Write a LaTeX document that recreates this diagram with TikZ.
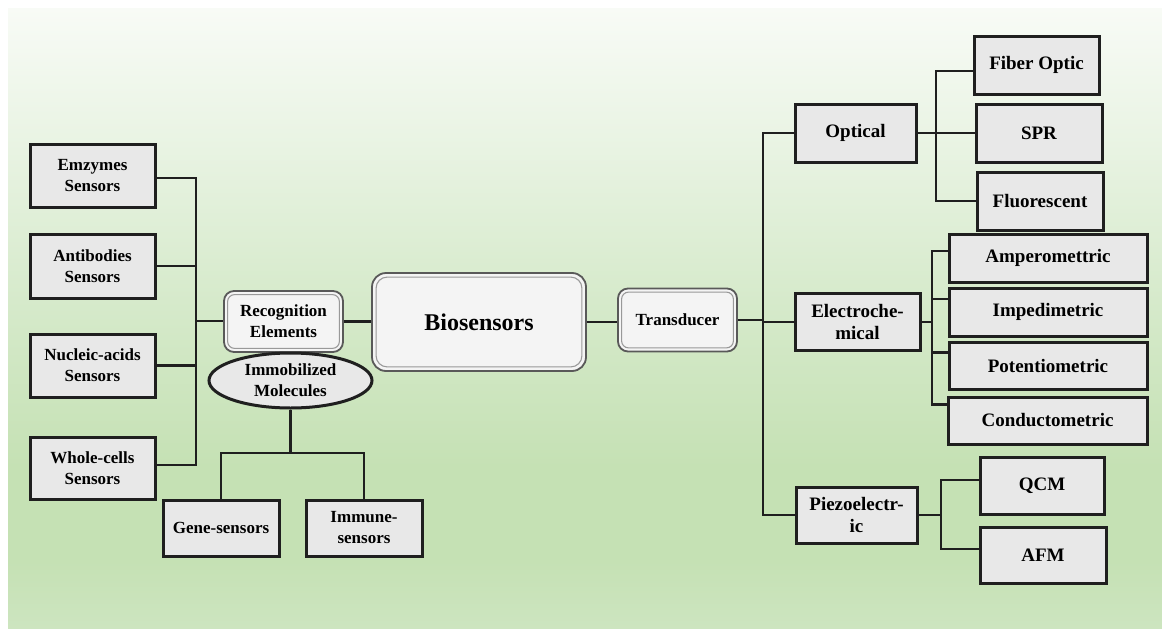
\documentclass[tikz,border=0pt]{standalone}
\usepackage{fontspec}
\setmainfont{Liberation Serif}
\usetikzlibrary{shapes.geometric,calc}
\definecolor{boxfill}{HTML}{E8E8E8}
\definecolor{rfill}{HTML}{F4F4F4}
\definecolor{bgA}{HTML}{CDE5C0}
\definecolor{bgB}{HTML}{C5E1B4}
\definecolor{bgC}{HTML}{D6EACB}
\definecolor{bgD}{HTML}{E8F3E2}
\definecolor{bgE}{HTML}{F8FBF6}
\pgfdeclareverticalshading{bgshade}{100bp}{color(0bp)=(bgA); color(25bp)=(bgA); color(30.5bp)=(bgB); color(38bp)=(bgB); color(51.5bp)=(bgC); color(63.5bp)=(bgD); color(75bp)=(bgE); color(100bp)=(bgE)}
\tikzset{
  sbox/.style={draw=black!88, line width=3pt, fill=boxfill, align=center, inner sep=0pt,
    font=\bfseries\fontsize{19}{22.5}\selectfont},
  lbox/.style={sbox, font=\bfseries\fontsize{17}{21}\selectfont},
  rbox/.style={draw=black!65, line width=1.8pt, fill=rfill, rounded corners=10pt, align=center, inner sep=0pt,
    font=\bfseries\fontsize{17}{21}\selectfont},
  innerline/.style={draw=black!40, line width=1.1pt},
  conn/.style={draw=black!88, line width=2.8pt},
}
\begin{document}
\begin{tikzpicture}[x=1pt,y=-1pt]
\useasboundingbox (0,0) rectangle (1162,629);
\fill[shading=bgshade] (8,8) rectangle (1162,629);

% left sensors
\node[lbox, minimum width=125pt, minimum height=63pt] (emz) at (92.5,175.5) {Emzymes\\Sensors};
\node[lbox, minimum width=125pt, minimum height=64pt] (anti) at (92.5,266) {Antibodies\\Sensors};
\node[lbox, minimum width=125pt, minimum height=63pt] (nuc) at (92.5,365.5) {Nucleic-acids\\Sensors};
\node[lbox, minimum width=125pt, minimum height=62pt] (whole) at (92.5,468) {Whole-cells\\Sensors};

% center
\node[rbox, minimum width=119pt, minimum height=61pt] (rec) at (283.5,321.5) {Recognition\\Elements};
\node[rbox, minimum width=214pt, minimum height=98pt, rounded corners=14pt,
  font=\bfseries\fontsize{24}{28}\selectfont] (bio) at (479,322) {Biosensors};
\node[rbox, minimum width=119pt, minimum height=63pt] (tra) at (677.5,320) {Transducer};
\draw[innerline, rounded corners=7pt] ([xshift=4.5pt,yshift=-4.5pt]rec.north west) rectangle ([xshift=-4.5pt,yshift=4.5pt]rec.south east);
\draw[innerline, rounded corners=11pt] ([xshift=5pt,yshift=-5pt]bio.north west) rectangle ([xshift=-5pt,yshift=5pt]bio.south east);
\draw[innerline, rounded corners=7pt] ([xshift=4.5pt,yshift=-4.5pt]tra.north west) rectangle ([xshift=-4.5pt,yshift=4.5pt]tra.south east);

\node[ellipse, draw=black!88, line width=3pt, fill=boxfill, minimum width=163pt, minimum height=55pt,
  inner sep=0pt, align=center, font=\bfseries\fontsize{17}{21}\selectfont] (imm) at (290.5,380.5) {Immobilized\\Molecules};
\node[lbox, minimum width=116pt, minimum height=56pt] (gene) at (221,528) {Gene-sensors};
\node[lbox, minimum width=116pt, minimum height=56pt] (immu) at (364,528) {Immune-\\sensors};

% right level 1
\node[sbox, minimum width=121pt, minimum height=58pt] (opt) at (855.5,133) {Optical};
\node[sbox, minimum width=125pt, minimum height=57pt] (ele) at (857.5,322) {Electroche-\\mical};
\node[sbox, minimum width=121pt, minimum height=56pt] (pie) at (856.5,515) {Piezoelectr-\\ic};

% optical children
\node[sbox, minimum width=125pt, minimum height=58pt] (fib) at (1036.5,65) {Fiber Optic};
\node[sbox, minimum width=126pt, minimum height=58pt] (spr) at (1039,133) {SPR};
\node[sbox, minimum width=126pt, minimum height=58pt] (flu) at (1040,201) {Fluorescent};

% electrochemical children
\node[sbox, minimum width=198pt, minimum height=48pt] (amp) at (1048,258) {Amperomettric};
\node[sbox, minimum width=198pt, minimum height=48pt] (imp) at (1048,312) {Impedimetric};
\node[sbox, minimum width=198pt, minimum height=47pt] (pot) at (1048,365.5) {Potentiometric};
\node[sbox, minimum width=199pt, minimum height=47pt] (con) at (1047.5,420.5) {Conductometric};

% piezo children
\node[sbox, minimum width=124pt, minimum height=57pt] (qcm) at (1042,485.5) {QCM};
\node[sbox, minimum width=126pt, minimum height=56pt] (afm) at (1043,555) {AFM};

% ---------- connectors ----------
\coordinate (lb) at (196,321);
\coordinate (e1) at ([yshift=-2.5pt]emz.east);
\coordinate (w1) at ([yshift=3pt]whole.east);
\draw[conn] (e1) -- (e1 -| lb) -- (w1 -| lb) -- (w1);
\draw[conn] (anti.east) -- (anti.east -| lb);
\draw[conn] (nuc.east) -- (nuc.east -| lb);
\draw[conn] (lb) -- (rec.west |- lb);
\draw[conn] (rec.east) -- (rec.east -| bio.west);
\draw[conn] (bio.east) -- (bio.east -| tra.west);

\coordinate (ib) at (292,453);
\draw[conn] (imm.south) -- (imm.south |- ib);
\draw[conn] (gene.north) |- (imm.south |- ib) -| (immu.north);

\coordinate (tb) at (763,320);
\draw[conn] (tra.east) -- (tra.east -| tb);
\draw[conn] (opt.west) -- (opt.west -| tb) -- (pie.west -| tb) -- (pie.west);
\draw[conn] (ele.west -| tb) -- (ele.west);

\coordinate (ob) at (936,0);
\coordinate (f1) at ([yshift=-6pt]fib.west);
\draw[conn] (f1) -- (f1 -| ob) -- (flu.west -| ob) -- (flu.west);
\draw[conn] (opt.east) -- (spr.west);

\coordinate (eb) at (932,0);
\coordinate (a1) at ([yshift=7pt]amp.west);
\coordinate (i1) at ([yshift=13pt]imp.west);
\coordinate (p1) at ([yshift=13pt]pot.west);
\coordinate (c1) at ([yshift=16pt]con.west);
\draw[conn] (a1) -- (a1 -| eb) -- (c1 -| eb) -- (c1);
\draw[conn] (i1 -| eb) -- (i1);
\draw[conn] (p1 -| eb) -- (p1);
\draw[conn] (ele.east) -- (ele.east -| eb);

\coordinate (pb) at (941,0);
\coordinate (q1) at ([yshift=5.5pt]qcm.west);
\coordinate (m1) at ([yshift=6pt]afm.west);
\draw[conn] (q1) -- (q1 -| pb) -- (m1 -| pb) -- (m1);
\draw[conn] (pie.east) -- (pie.east -| pb);
\end{tikzpicture}
\end{document}
